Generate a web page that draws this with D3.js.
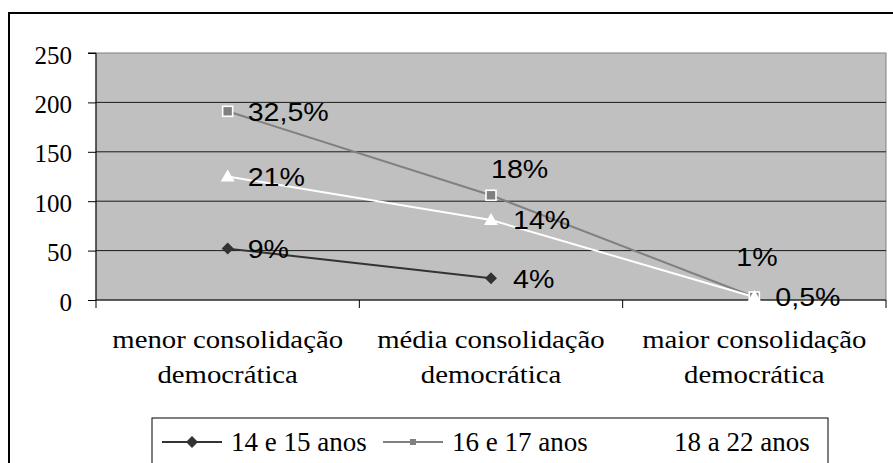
<!DOCTYPE html>
<html>
<head>
<meta charset="utf-8">
<script src="https://cdn.jsdelivr.net/npm/d3@7"></script>
<style>
  body { margin: 0; background: #fff; }
  svg { display: block; }
</style>
</head>
<body>
<script>
// data
const categories = ['menor consolidação democrática', 'média consolidação democrática', 'maior consolidação democrática']
const seriesNames = ['14 e 15 anos', '16 e 17 anos', '18 a 22 anos']
const values1415 = [52, 22, null]
const values1617 = [191, 106, 3]
const values1822 = [125, 81, 3]
const labels1415 = ['9%', '4%', '']
const labels1617 = ['32,5%', '18%', '1%']
const labels1822 = ['21%', '14%', '0,5%']
const yTicks = [0, 50, 100, 150, 200, 250]

const SERIF = "'Liberation Serif'"
const SANS = "'Liberation Sans'"

const size = {
    width: 893,
    height: 463,
    plot: { left: 96, right: 886, top: 53, bottom: 300 }
}

const svg = d3.select('body')
    .append('svg')
    .attr('width', size.width)
    .attr('height', size.height)

// outer frame (only left and top edges are in view)
svg.append('path')
   .attr('d', `M9,${size.height} V13 H${size.width}`)
   .attr('fill', 'none')
   .attr('stroke', '#000')
   .attr('stroke-width', 2)

const xScale = d3.scaleBand()
    .domain(categories)
    .range([size.plot.left, size.plot.right])
const yScale = d3.scaleLinear()
    .domain([0, 250])
    .range([size.plot.bottom, size.plot.top])

// plot background
svg.append('rect')
   .attr('x', size.plot.left)
   .attr('y', size.plot.top)
   .attr('width', size.plot.right - size.plot.left)
   .attr('height', size.plot.bottom - size.plot.top)
   .attr('fill', '#c0c0c0')
   .attr('stroke', '#808080')

// gridlines
svg.append('g')
   .selectAll('line')
   .data(yTicks.filter(d => d > 0 && d < 250))
   .enter()
   .append('line')
   .attr('x1', size.plot.left)
   .attr('x2', size.plot.right)
   .attr('y1', d => yScale(d))
   .attr('y2', d => yScale(d))
   .attr('stroke', '#1a1a1a')
   .attr('stroke-width', 1)

// y axis
const yAxis = d3.axisLeft(yScale).tickValues(yTicks).tickSize(8).tickPadding(16)
svg.append('g')
   .attr('transform', `translate(${size.plot.left},0)`)
   .call(yAxis)
   .call(g => g.select('.domain').attr('stroke', '#000').attr('d', `M-8,${size.plot.top}H0V${size.plot.bottom}`))
   .call(g => g.selectAll('.tick line').attr('stroke', '#000'))
   .call(g => g.selectAll('text')
       .style('font-family', SERIF)
       .style('font-size', '25px')
       .attr('dy', '0.4em')
       .attr('fill', '#000'))

// x axis
const xAxis = d3.axisBottom(xScale).tickSize(0).tickFormat('')
svg.append('g')
   .attr('transform', `translate(0,${size.plot.bottom})`)
   .call(xAxis)
   .call(g => g.select('.domain').attr('stroke', '#000').attr('d', `M${size.plot.left},0H${size.plot.right}`))
svg.append('g')
   .selectAll('line')
   .data(categories.map(c => xScale(c)).concat([size.plot.right]))
   .enter()
   .append('line')
   .attr('x1', d => d).attr('x2', d => d)
   .attr('y1', size.plot.bottom).attr('y2', size.plot.bottom + 8)
   .attr('stroke', '#000')

// category labels, two lines each (the source text is drawn a bit wide)
const catText = svg.append('g')
   .selectAll('text')
   .data(categories)
   .enter()
   .append('text')
   .attr('text-anchor', 'middle')
   .attr('transform', d => `translate(${xScale(d) + xScale.bandwidth() / 2},0) scale(1.15,1)`)
   .style('font-family', SERIF)
   .style('font-size', '25px')
   .attr('fill', '#000')
catText.each(function(d){
    const words = d.split(' ')
    d3.select(this).append('tspan').attr('x', 0).attr('y', 348).text(words.slice(0, 2).join(' '))
    d3.select(this).append('tspan').attr('x', 0).attr('y', 383).text(words.slice(2).join(' '))
})

const cx = i => xScale(categories[i]) + xScale.bandwidth() / 2
const line = d3.line()
    .defined(d => d.v !== null)
    .x(d => cx(d.i))
    .y(d => yScale(d.v))

const series = [
    { name: seriesNames[0], values: values1415, labels: labels1415, color: '#333333', marker: 'diamond', place: [[20, 0], [22, 0], [0, 0]] },
    { name: seriesNames[1], values: values1617, labels: labels1617, color: '#808080', marker: 'square', place: [[20, 0], [0, -27], [-18, -40]] },
    { name: seriesNames[2], values: values1822, labels: labels1822, color: '#ffffff', marker: 'triangle', place: [[20, 0], [22, 0], [21, 0]] }
]

const drawMarker = (g, s, x, y) => {
    if (s.marker === 'diamond') {
        g.append('path').attr('d', `M${x},${y-6}L${x+6},${y}L${x},${y+6}L${x-6},${y}Z`).attr('fill', s.color)
    } else if (s.marker === 'square') {
        g.append('rect').attr('x', x - 5).attr('y', y - 5).attr('width', 10).attr('height', 10)
         .attr('fill', s.color).attr('stroke', '#fff').attr('stroke-width', 1.6)
    } else {
        g.append('path').attr('d', `M${x},${y-7}L${x+7},${y+5}L${x-7},${y+5}Z`).attr('fill', s.color)
    }
}

// lines, then markers on top
const marks = svg.append('g')
series.forEach(s => {
    const pts = s.values.map((v, i) => ({ i, v }))
    marks.append('path')
         .datum(pts)
         .attr('d', line)
         .attr('fill', 'none')
         .attr('stroke', s.color)
         .attr('stroke-width', 2)
})
series.forEach(s => {
    s.values.forEach((v, i) => {
        if (v === null) return
        drawMarker(marks, s, cx(i), yScale(v))
    })
})

// data labels
const lab = svg.append('g')
series.forEach(s => {
    s.values.forEach((v, i) => {
        if (v === null || !s.labels[i]) return
        lab.append('text')
           .attr('transform', `translate(${cx(i) + s.place[i][0]},${yScale(v) + s.place[i][1]}) scale(1.1,1)`)
           .attr('dy', '0.36em')
           .style('font-family', SANS)
           .style('font-size', '26px')
           .attr('fill', '#000')
           .text(s.labels[i])
    })
})

// legend
const legend = svg.append('g')
legend.append('rect')
      .attr('x', 152).attr('y', 418)
      .attr('width', 676).attr('height', 60)
      .attr('fill', '#fff').attr('stroke', '#000')
const legendX = [162, 383, 605]
series.forEach((s, k) => {
    const x0 = legendX[k], y0 = 442
    legend.append('line')
          .attr('x1', x0).attr('x2', x0 + 60)
          .attr('y1', y0).attr('y2', y0)
          .attr('stroke', s.color).attr('stroke-width', 2)
    if (s.marker === 'square') legend.append('rect').attr('x', x0 + 27).attr('y', y0 - 3).attr('width', 6).attr('height', 6).attr('fill', s.color)
    else drawMarker(legend, s, x0 + 30, y0)
    legend.append('text')
          .attr('x', x0 + 69)
          .attr('y', y0)
          .attr('dy', '0.35em')
          .style('font-family', SERIF)
          .style('font-size', '27px')
          .attr('fill', '#000')
          .text(s.name)
})
</script>
</body>
</html>
